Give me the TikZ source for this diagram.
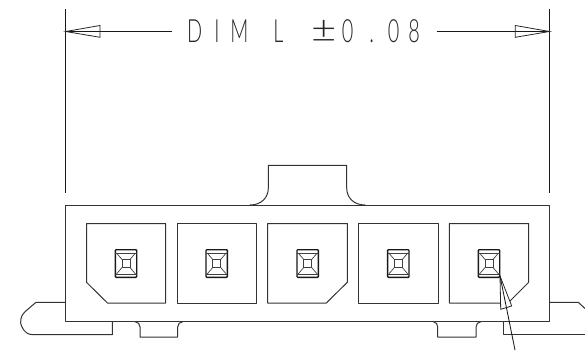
\documentclass[tikz,border=0pt]{standalone}
\usepackage{fontspec}
\newfontfamily\dimfont[FakeStretch=0.62]{Lato Light}
\tikzset{
  part/.style={draw=black!80,line width=1pt,line join=round},
  thinline/.style={draw=black!90,line width=0.85pt},
  pinouter/.style={draw=black!90,line width=1.4pt,rounded corners=0.8pt},
  pininner/.style={draw=black!75,line width=0.7pt},
  headarrow/.style={draw=black!85,fill=white,line width=0.8pt,line join=miter},
  dimtext/.style={inner sep=0pt,anchor=base west,text=black!85}
}
\begin{document}
\begin{tikzpicture}[x=1pt,y=-1pt]
\useasboundingbox (0,0) rectangle (585,350);
% side latches
\draw[part] (65.5,302.3) -- (36,302.3) -- (25,311.7) .. controls (20,316) and (20,323) .. (21.5,326) .. controls (24,332) and (28,334.7) .. (33,334.7) -- (112.3,334.7) -- (112.3,321.7);
\draw[part] (549.5,302.3) -- (578.3,302.3) -- (585,308.5);
\draw[part] (585,334.7) -- (503,334.7) -- (503,321.7);
% body
\draw[part] (65.5,321.7) -- (65.5,205) -- (549.5,205) -- (549.5,321.7) -- cycle;
% top key
\draw[part] (250,205) .. controls (261,205) and (268.3,198) .. (268.3,188) -- (268.3,165.3) -- (346.7,165.3) -- (346.7,188) .. controls (346.7,198) and (354,205) .. (365,205);
% bottom clips
\draw[part] (135,321.7) .. controls (138,322) and (140,324) .. (140,327) -- (140,337) -- (177.7,337) -- (177.7,327) .. controls (177.7,324) and (179.7,322) .. (182.7,321.7);
\draw[part] (433.3,321.7) .. controls (436,322) and (437.7,324) .. (437.7,327) -- (437.7,337) -- (476,337) -- (476,327) .. controls (476,324) and (478,322) .. (481,321.7);
% cavities
\draw[part] (86.5,223.5) -- (165.5,223.5) -- (165.5,303) -- (107.5,303) -- (86.5,282.3) -- cycle;
\draw[part] (177,223.5) -- (256.5,223.5) -- (256.5,303) -- (177,303) -- cycle;
\draw[part] (267.5,223.5) -- (347.3,223.5) -- (347.3,282.3) -- (326.3,303) -- (267.5,303) -- cycle;
\draw[part] (358.7,223.5) -- (438,223.5) -- (438,303) -- (358.7,303) -- cycle;
\draw[part] (449.3,223.5) -- (528.7,223.5) -- (528.7,282.3) -- (508,303) -- (449.3,303) -- cycle;
% pins
\foreach \cx in {126,216.7,307.7,398.3,489}{
  \begin{scope}[shift={(\cx,263.5)}]
    \draw[pinouter] (-10.7,-13.8) rectangle (10.7,13.8);
    \draw[pininner] (-10.7,-10.5) -- (10.7,-10.5) (-10.7,10.5) -- (10.7,10.5);
    \draw[pininner] (-4,-4) rectangle (4,4);
    \draw[pininner] (-4,-4) -- (-9.5,-10.5) (4,-4) -- (9.5,-10.5) (-4,4) -- (-9.5,10.5) (4,4) -- (9.5,10.5);
  \end{scope}
}
% leader
\coordinate (leadtip) at (500,276);
\coordinate (leadend) at (515,350);
\draw[headarrow] (leadtip) -- (500.7,309.3) -- (511.7,306) -- cycle;
\draw[thinline] (leadtip) -- (leadend);
% dimension
\coordinate (extLtop) at (65.7,9);
\coordinate (extLbot) at (65.7,193);
\coordinate (extRtop) at (549.5,9);
\coordinate (extRbot) at (549.5,193);
\draw[thinline] (extLtop) -- (extLbot);
\draw[thinline] (extRtop) -- (extRbot);
\coordinate (dimL) at (65.7,31.5);
\coordinate (dimR) at (549.5,31.5);
\coordinate (dimLe) at (171.7,31.5);
\coordinate (dimRe) at (436.7,31.5);
\draw[thinline] (dimL) -- (dimLe);
\draw[thinline] (dimRe) -- (dimR);
\draw[headarrow,fill=none] (dimL) -- (100,25.5) -- (100,37.3) -- cycle;
\draw[headarrow,fill=none] (dimR) -- (515.3,25.5) -- (515.3,37.3) -- cycle;
\node[dimtext] (dimlabel) at (187,42.7) {\fontsize{32pt}{32pt}\dimfont D\kern 12pt I\kern 11pt M\kern 25pt L\kern 28pt \scalebox{2.2}[1.2]{±}\kern 5pt 0\kern 16pt .\kern 14pt 0\kern 9pt 8};
\end{tikzpicture}
\end{document}
